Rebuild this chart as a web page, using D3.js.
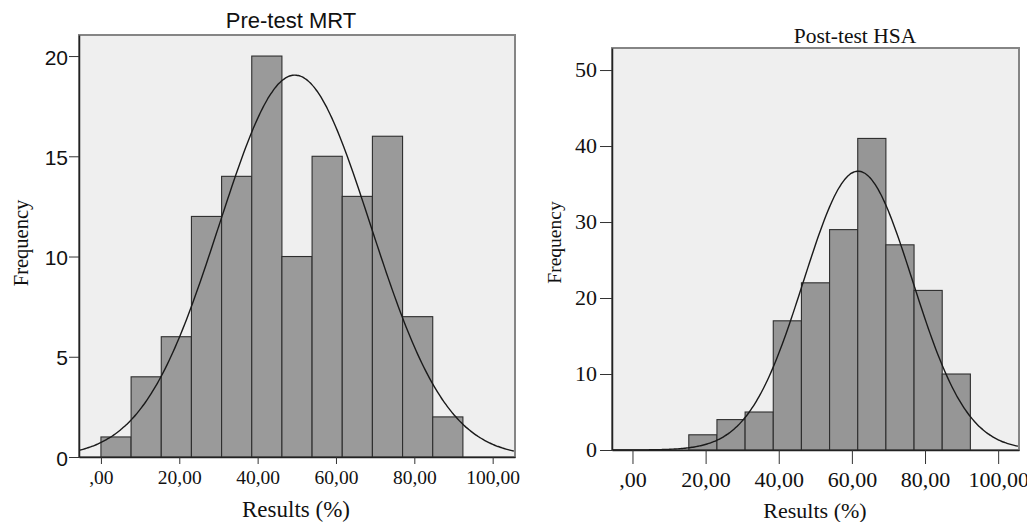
<!DOCTYPE html>
<html>
<head>
<meta charset="utf-8">
<script src="https://cdn.jsdelivr.net/npm/d3@7"></script>
<style>
	body { margin: 0; background: #fff; }
	svg { display: block; }
</style>
</head>
<body>
<script>
//histogram data
var binWidth = 7.7;

var preBinStart = 0;
var preCounts = [1, 4, 6, 12, 14, 20, 10, 15, 13, 16, 7, 2];
var preMean = 49.5, preSd = 19.35;
var preYTicks = [0, 5, 10, 15, 20];

var postBinStart = 15.4;
var postCounts = [2, 4, 5, 17, 22, 29, 41, 27, 21, 10];
var postMean = 61.7, postSd = 14.9;
var postYTicks = [0, 10, 20, 30, 40, 50];

var xTicks = [0, 20, 40, 60, 80, 100];

//begin script when window loads
window.onload = setChart();

function setChart(){

	var width = 1027,
		height = 522;

	var svg = d3.select("body")
		.append("svg")
		.attr("width", width)
		.attr("height", height);

	svg.append("rect")
		.attr("width", width)
		.attr("height", height)
		.attr("fill", "#fff");

	//left panel: Pre-test MRT
	drawPanel(svg, {
		id: "pre",
		left: 79, right: 515, top: 35, bottom: 457,
		yMax: 21.05,
		counts: preCounts, binStart: preBinStart,
		mean: preMean, sd: preSd,
		yTicks: preYTicks,
		title: "Pre-test MRT",
		titleFont: "'Liberation Sans', Arial, sans-serif", titleSize: 22, titleX: 291, titleY: 28,
		yFont: "'Liberation Sans', Arial, sans-serif", ySize: 21, yTickLen: 10, yPad: 1, yDy: 10,
		xSize: 19.5, xTickLen: 7, xLabelY: 484,
		xTitleSize: 23, xTitleX: 296, xTitleY: 517,
		fTitleSize: 20.5, fX: 28, fY: 243,
		barFill: "#9a9a9a"
	});

	//right panel: Post-test HSA
	drawPanel(svg, {
		id: "post",
		left: 612, right: 1019, top: 48, bottom: 450,
		yMax: 52.9,
		counts: postCounts, binStart: postBinStart,
		mean: postMean, sd: postSd,
		yTicks: postYTicks,
		title: "Post-test HSA",
		titleFont: "'Liberation Serif', 'Times New Roman', serif", titleSize: 21.5, titleX: 855, titleY: 43,
		yFont: "'Liberation Serif', 'Times New Roman', serif", ySize: 22, yTickLen: 12, yPad: 3, yDy: 8.5,
		xSize: 22, xTickLen: 14, xLabelY: 487,
		xTitleSize: 22, xTitleX: 815, xTitleY: 518,
		fTitleSize: 19.5, fX: 560.5, fY: 242.5,
		barFill: "#969696"
	});
};

function drawPanel(svg, c){

	var serif = "'Liberation Serif', 'Times New Roman', serif";

	var x = d3.scaleLinear()
		.domain([-5.6, 105.7])
		.range([c.left, c.right]);

	var y = d3.scaleLinear()
		.domain([0, c.yMax])
		.range([c.bottom, c.top]);

	var g = svg.append("g").attr("class", c.id);

	//plot background
	g.append("rect")
		.attr("x", c.left)
		.attr("y", c.top)
		.attr("width", c.right - c.left)
		.attr("height", c.bottom - c.top)
		.attr("fill", "#efefef")
		.attr("stroke", "#858585")
		.attr("stroke-width", 2);

	g.append("clipPath")
		.attr("id", "clip-" + c.id)
		.append("rect")
		.attr("x", c.left)
		.attr("y", c.top)
		.attr("width", c.right - c.left)
		.attr("height", c.bottom - c.top);

	//bars
	var bins = c.counts.map(function(v, i){
		return { x0: c.binStart + i * binWidth, x1: c.binStart + (i + 1) * binWidth, n: v };
	});

	g.selectAll(".bar")
		.data(bins)
		.enter()
		.append("rect")
		.attr("class", "bar")
		.attr("x", function(d){ return x(d.x0); })
		.attr("y", function(d){ return y(d.n); })
		.attr("width", function(d){ return x(d.x1) - x(d.x0); })
		.attr("height", function(d){ return y(0) - y(d.n); })
		.attr("fill", c.barFill)
		.attr("stroke", "#2e2e2e")
		.attr("stroke-width", 1.1);

	//fitted normal curve
	var total = d3.sum(c.counts);
	var xs = d3.range(-5.6, 105.8, 0.5);
	var curve = d3.line()
		.x(function(d){ return x(d); })
		.y(function(d){
			var z = (d - c.mean) / c.sd;
			return y(total * binWidth / (c.sd * Math.sqrt(2 * Math.PI)) * Math.exp(-0.5 * z * z));
		})
		.curve(d3.curveBasis);

	g.append("path")
		.datum(xs)
		.attr("clip-path", "url(#clip-" + c.id + ")")
		.attr("d", curve)
		.attr("fill", "none")
		.attr("stroke", "#1a1a1a")
		.attr("stroke-width", 1.4);

	//y axis
	var yAxis = g.append("g")
		.attr("transform", "translate(" + c.left + ",0)")
		.call(d3.axisLeft(y)
			.tickValues(c.yTicks)
			.tickSize(c.yTickLen)
			.tickSizeOuter(0)
			.tickPadding(c.yPad)
			.tickFormat(d3.format("d")));
	yAxis.select(".domain").attr("stroke", "#222").attr("stroke-width", 1.5);
	yAxis.selectAll(".tick line").attr("stroke", "#333");
	yAxis.selectAll("text")
		.attr("font-family", c.yFont)
		.attr("font-size", c.ySize)
		.attr("fill", "#111")
		.attr("dy", null)
		.attr("y", c.yDy - 2);

	//x axis
	var xAxis = g.append("g")
		.attr("transform", "translate(0," + c.bottom + ")")
		.call(d3.axisBottom(x)
			.tickValues(xTicks)
			.tickSize(c.xTickLen)
			.tickSizeOuter(0)
			.tickFormat(function(d){
				return d === 0 ? ",00" : d3.format(".2f")(d).replace(".", ",");
			}));
	xAxis.select(".domain").attr("stroke", "#222").attr("stroke-width", 1.5);
	xAxis.selectAll(".tick line").attr("stroke", "#333");
	xAxis.selectAll("text")
		.attr("font-family", serif)
		.attr("font-size", c.xSize)
		.attr("fill", "#111")
		.attr("dy", null)
		.attr("y", c.xLabelY - c.bottom);

	//titles
	g.append("text")
		.attr("x", c.titleX)
		.attr("y", c.titleY)
		.attr("text-anchor", "middle")
		.attr("font-family", c.titleFont)
		.attr("font-size", c.titleSize)
		.attr("fill", "#111")
		.text(c.title);

	g.append("text")
		.attr("x", c.xTitleX)
		.attr("y", c.xTitleY)
		.attr("text-anchor", "middle")
		.attr("font-family", serif)
		.attr("font-size", c.xTitleSize)
		.attr("fill", "#111")
		.text("Results (%)");

	g.append("text")
		.attr("transform", "translate(" + c.fX + "," + c.fY + ") rotate(-90)")
		.attr("text-anchor", "middle")
		.attr("font-family", serif)
		.attr("font-size", c.fTitleSize)
		.attr("fill", "#111")
		.text("Frequency");
};
</script>
</body>
</html>
